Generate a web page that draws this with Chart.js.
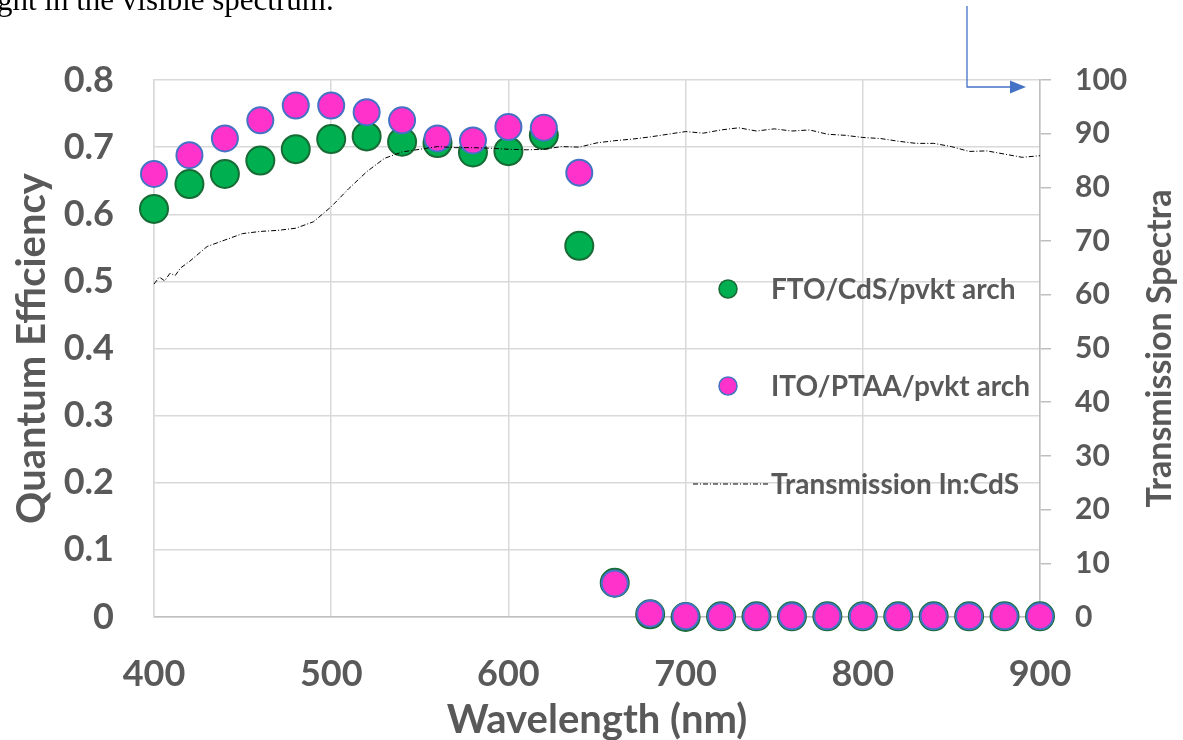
<!DOCTYPE html>
<html>
<head>
<meta charset="utf-8">
<script src="https://cdn.jsdelivr.net/npm/chart.js@4.4.1/dist/chart.umd.min.js"></script>
<style>
  html, body { margin: 0; padding: 0; background: #fff; }
  #wrap { position: relative; width: 1183px; height: 740px; overflow: hidden; }
  #qe { position: absolute; left: 0; top: 0; }
  #caption { position: absolute; left: -3px; top: -16px; font-family: "Liberation Serif", "Times New Roman", serif; font-size: 31px; line-height: 31px; color: #000; white-space: nowrap; }
  #pointer { position: absolute; left: 0; top: 0; }
</style>
</head>
<body>
<div id="wrap">
  <canvas id="qe" width="1183" height="740"></canvas>
  <div id="caption">ght in the visible spectrum.</div>
  <svg id="pointer" width="1183" height="740">
    <polyline points="967,6 967,87 1011,87" fill="none" stroke="#4472C4" stroke-width="1.3"/>
    <polygon points="1010,80.5 1026,87 1010,93.5" fill="#4472C4"/>
  </svg>
</div>
<script>
// Wavelengths (nm) at which quantum efficiency was measured
const wavelengths = [400, 420, 440, 460, 480, 500, 520, 540, 560, 580, 600, 620, 640,
                     660, 680, 700, 720, 740, 760, 780, 800, 820, 840, 860, 880, 900];
// QE of the FTO/CdS/perovskite device
const qeFtoCds = [0.608, 0.645, 0.660, 0.680, 0.697, 0.712, 0.716, 0.708, 0.706, 0.692, 0.694, 0.718, 0.553,
                  0.051, 0.004, 0.000, 0.001, 0.001, 0.001, 0.001, 0.001, 0.001, 0.001, 0.001, 0.001, 0.001];
// QE of the ITO/PTAA/perovskite device
const qeItoPtaa = [0.660, 0.688, 0.713, 0.740, 0.762, 0.762, 0.752, 0.740, 0.713, 0.710, 0.730, 0.729, 0.662,
                   0.050, 0.005, 0.001, 0.001, 0.001, 0.001, 0.001, 0.001, 0.001, 0.001, 0.001, 0.001, 0.001];
// Transmission spectrum of the In:CdS layer (%)
const transWavelengths = [400, 403, 406, 409, 412, 415, 420, 430, 440, 450, 460, 470, 480, 490, 500, 510, 520,
                          530, 540, 550, 560, 570, 580, 590, 600, 610, 620, 630, 640, 650, 660, 670, 680, 690,
                          700, 710, 720, 730, 740, 750, 760, 770, 780, 790, 800, 810, 820, 830, 840, 850, 860,
                          870, 880, 890, 900];
const transmission = [62.0, 63.3, 62.6, 64.0, 63.6, 65.0, 66.2, 69.0, 70.2, 71.4, 71.8, 72.0, 72.4, 73.6, 76.4,
                      79.8, 82.9, 85.4, 86.6, 87.1, 87.6, 87.4, 87.4, 87.3, 87.1, 87.0, 87.1, 87.6, 87.5, 88.3,
                      88.7, 89.0, 89.4, 89.9, 90.4, 90.1, 90.7, 91.1, 90.5, 90.9, 90.5, 90.7, 89.9, 89.7, 89.3,
                      89.1, 88.6, 88.2, 88.2, 87.6, 86.7, 86.8, 86.2, 85.6, 85.9];
// Axis ticks and titles
const xTicks = [400, 500, 600, 700, 800, 900];
const seriesNames = ['FTO/CdS/pvkt arch', 'ITO/PTAA/pvkt arch', 'Transmission In:CdS'];
const rightTitle = 'Transmission Spectra';

const TEXT = '#595959';
const FONT = 'Lato, "Open Sans", sans-serif';
const GREEN = '#00B050', GREEN_EDGE = '#176B34';
const PINK = '#FF33CC', PINK_EDGE = '#4472C4';
const DASH = [5, 2, 1, 2];

const pts = (xs, ys) => xs.map((x, i) => ({ x: x, y: ys[i] }));

// Legend drawn inside the plot area, plus the right-hand axis title read bottom-to-top
const insideLegend = {
  id: 'insideLegend',
  afterDatasetsDraw(chart) {
    const ctx = chart.ctx, ca = chart.chartArea;
    const mx = ca.left + 574, tx = ca.left + 617;
    const rows = [ca.top + 209, ca.top + 306, ca.top + 404];
    ctx.save();
    [[GREEN, GREEN_EDGE], [PINK, PINK_EDGE]].forEach((c, i) => {
      ctx.beginPath();
      ctx.arc(mx, rows[i], 9, 0, Math.PI * 2);
      ctx.fillStyle = c[0];
      ctx.fill();
      ctx.lineWidth = 1.5;
      ctx.strokeStyle = c[1];
      ctx.stroke();
    });
    ctx.beginPath();
    ctx.setLineDash(DASH);
    ctx.lineWidth = 1;
    ctx.strokeStyle = '#000';
    ctx.moveTo(mx - 35, rows[2]);
    ctx.lineTo(tx - 3, rows[2]);
    ctx.stroke();
    ctx.setLineDash([]);
    ctx.font = 'bold 28px ' + FONT;
    ctx.fillStyle = TEXT;
    ctx.textBaseline = 'middle';
    ctx.textAlign = 'left';
    seriesNames.forEach((n, i) => ctx.fillText(n, tx, rows[i] + 1));

    ctx.translate(ca.right + 120, (ca.top + ca.bottom) / 2);
    ctx.rotate(-Math.PI / 2);
    ctx.textAlign = 'center';
    ctx.font = 'bold 34px ' + FONT;
    ctx.fillText(rightTitle, 0, 0);
    ctx.restore();
  }
};

new Chart(document.getElementById('qe'), {
  type: 'scatter',
  data: {
    datasets: [
      {
        label: seriesNames[2],
        data: pts(transWavelengths, transmission),
        yAxisID: 'y2',
        showLine: true,
        borderColor: '#000',
        borderWidth: 1,
        borderDash: DASH,
        pointRadius: 0,
        clip: false,
        order: 0
      },
      {
        label: seriesNames[1],
        data: pts(wavelengths, qeItoPtaa),
        yAxisID: 'y',
        backgroundColor: PINK,
        borderColor: PINK_EDGE,
        borderWidth: 2,
        pointRadius: 13,
        clip: false,
        order: 1
      },
      {
        label: seriesNames[0],
        data: pts(wavelengths, qeFtoCds),
        yAxisID: 'y',
        backgroundColor: GREEN,
        borderColor: GREEN_EDGE,
        borderWidth: 2,
        pointRadius: 14,
        clip: false,
        order: 2
      }
    ]
  },
  options: {
    responsive: false,
    animation: false,
    events: [],
    layout: { padding: { top: 80, left: 0, right: 0, bottom: 0 } },
    plugins: { legend: { display: false }, tooltip: { enabled: false } },
    scales: {
      x: {
        type: 'linear',
        min: 400, max: 900,
        afterBuildTicks: s => { s.ticks = xTicks.map(v => ({ value: v })); },
        afterFit: s => { s.height = 123; },
        grid: { color: '#D9D9D9', lineWidth: 1.5, drawTicks: false },
        border: { color: '#BFBFBF', width: 1.5 },
        ticks: { color: TEXT, font: { family: FONT, size: 36, weight: 'bold' }, padding: 36 },
        title: { display: true, text: 'Wavelength (nm)', color: TEXT,
                 font: { family: FONT, size: 40, weight: 'bold', lineHeight: 1 }, padding: { top: 0, bottom: 0 } }
      },
      y: {
        position: 'left',
        min: 0, max: 0.8,
        afterFit: s => { s.width = 154; },
        grid: { color: '#D9D9D9', lineWidth: 1.5, drawTicks: false },
        border: { color: '#D9D9D9', width: 1.5 },
        ticks: { stepSize: 0.1, color: TEXT, padding: 40,
                 font: { family: FONT, size: 36, weight: 'bold' },
                 callback: v => (v === 0 ? '0' : v.toFixed(1)) },
        title: { display: true, text: 'Quantum Efficiency', color: TEXT,
                 font: { family: FONT, size: 40, weight: 'bold', lineHeight: 1 }, padding: { top: 12, bottom: 0 } }
      },
      y2: {
        position: 'right',
        min: 0, max: 100,
        afterFit: s => { s.width = 143; },
        grid: { drawOnChartArea: false, drawTicks: true, tickLength: 11, tickColor: '#BFBFBF', lineWidth: 1.5 },
        border: { color: '#BFBFBF', width: 1.5 },
        ticks: { stepSize: 10, color: TEXT, padding: 24,
                 font: { family: FONT, size: 30, weight: 'bold' } }
      }
    }
  },
  plugins: [insideLegend]
});
</script>
</body>
</html>
